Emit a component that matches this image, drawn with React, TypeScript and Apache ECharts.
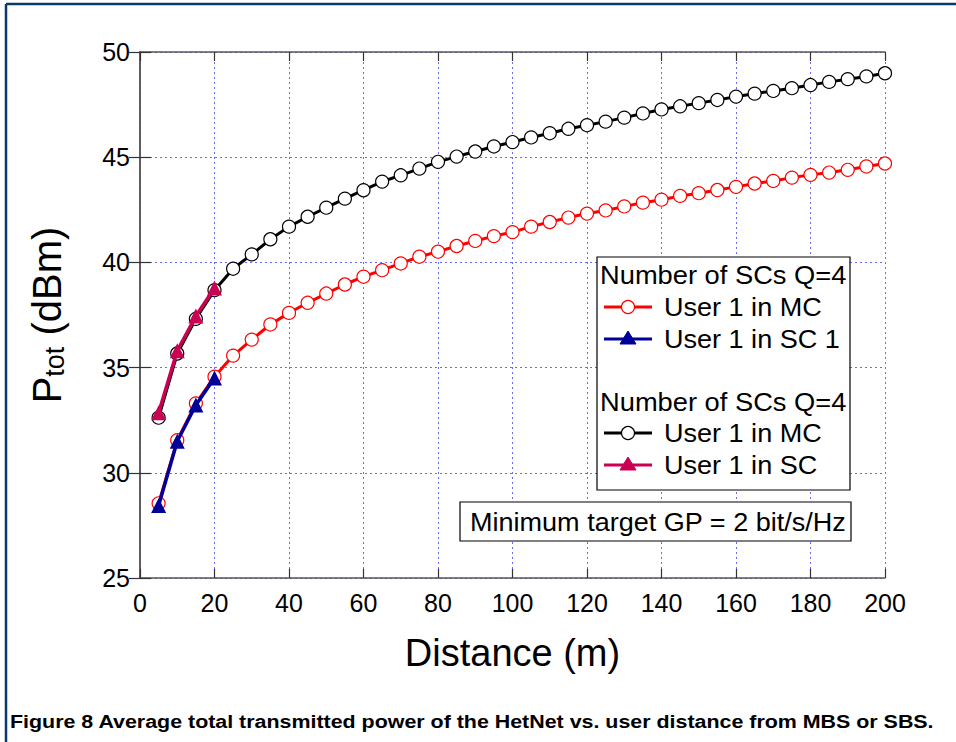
import React, { useEffect, useRef } from "react";
import * as echarts from "echarts";

const distances = [5, 10, 15, 20, 25, 30, 35, 40, 45, 50, 55, 60, 65, 70, 75, 80, 85, 90, 95, 100, 105, 110, 115, 120, 125, 130, 135, 140, 145, 150, 155, 160, 165, 170, 175, 180, 185, 190, 195, 200];
const mcQ4Black = [32.62, 35.67, 37.32, 38.68, 39.7, 40.38, 41.1, 41.7, 42.17, 42.6, 43.03, 43.43, 43.84, 44.14, 44.46, 44.78, 45.03, 45.27, 45.51, 45.72, 45.94, 46.14, 46.35, 46.52, 46.69, 46.88, 47.08, 47.27, 47.42, 47.57, 47.72, 47.88, 48.02, 48.15, 48.28, 48.43, 48.58, 48.71, 48.84, 48.99];
const mcQ4Red = [28.55, 31.55, 33.3, 34.57, 35.57, 36.33, 37.05, 37.6, 38.08, 38.52, 38.95, 39.32, 39.63, 39.95, 40.27, 40.51, 40.78, 41.02, 41.25, 41.44, 41.7, 41.92, 42.13, 42.32, 42.47, 42.66, 42.84, 42.98, 43.16, 43.29, 43.44, 43.59, 43.75, 43.87, 44.03, 44.16, 44.27, 44.4, 44.56, 44.7];
const scDistances = [5, 10, 15, 20];
const sc1Blue = [28.45, 31.5, 33.22, 34.5];
const scMagenta = [32.85, 35.8, 37.45, 38.78];

const legendTitles = ["Number of SCs Q=4", "Number of SCs Q=4"];
const legendNames = [["User 1 in MC", "User 1 in SC 1"], ["User 1 in MC", "User 1 in SC"]];
const noteText = "Minimum target GP = 2 bit/s/Hz";
const xName = "Distance (m)";
const caption = "Figure 8 Average total transmitted power of the HetNet vs. user distance from MBS or SBS.";

const RED = "#ff0000";
const BLUE = "#000099";
const BLACK = "#000000";
const MAGENTA = "#cc0052";
const FONT = "'Liberation Sans', Arial, sans-serif";

const pairs = (xs: number[], ys: number[]) => xs.map((x, i) => [x, ys[i]]);

function legendRow(y: number, color: string, symbol: string, text: string) {
  const els: any[] = [
    { type: "line", shape: { x1: 604, y1: y, x2: 652, y2: y }, style: { stroke: color, lineWidth: 3 }, z: 101 },
  ];
  if (symbol === "circle") {
    els.push({ type: "circle", shape: { cx: 628, cy: y, r: 6.5 }, style: { fill: "#fff", stroke: color, lineWidth: 1.2 }, z: 102 });
  } else {
    els.push({ type: "polygon", shape: { points: [[628, y - 8], [620, y + 5], [636, y + 5]] }, style: { fill: color, stroke: color }, z: 102 });
  }
  els.push({ type: "text", x: 664, y, scaleX: 1.04, style: { text, font: `26px ${FONT}`, fill: "#000", verticalAlign: "middle", align: "left" }, z: 102 });
  return els;
}

export default function App() {
  const ref = useRef<HTMLDivElement>(null);
  useEffect(() => {
    if (!ref.current) return;
    const chart = echarts.init(ref.current, null, { renderer: "svg" });
    const axisLine = { show: true, lineStyle: { color: "#555", width: 1.5 } };
    const tick = { show: true, inside: true, length: 9, lineStyle: { color: "#333", width: 1.2 } };
    const split = { show: true, lineStyle: { color: "#6a6aff", width: 1, type: [2, 3] } };
    const label = { color: "#000", fontSize: 25, fontFamily: FONT };
    const option: any = {
      animation: false,
      backgroundColor: "#fff",
      grid: { left: 140, right: 71, top: 52, bottom: 164 },
      xAxis: [
        {
          type: "value", min: 0, max: 200, interval: 20, position: "bottom",
          axisLine, axisTick: tick, splitLine: split,
          axisLabel: { ...label, margin: 12 },
          name: xName, nameLocation: "middle", nameGap: 56,
          nameTextStyle: { fontSize: 38, fontFamily: FONT, color: "#000" },
        },
        {
          type: "value", min: 0, max: 200, interval: 20, position: "top",
          axisLine, axisTick: tick, splitLine: { show: false }, axisLabel: { show: false },
        },
      ],
      yAxis: [
        {
          type: "value", min: 25, max: 50, interval: 5, position: "left",
          axisLine, axisTick: { ...tick, length: 11 }, splitLine: split,
          axisLabel: { ...label, margin: 10 },
          name: "{a|P}{b|tot}{a| (dBm)}", nameLocation: "middle", nameRotate: 90, nameGap: 72,
          nameTextStyle: {
            rich: {
              a: { fontSize: 40, fontFamily: FONT, color: "#000" },
              b: { fontSize: 27, fontFamily: FONT, color: "#000", padding: [16, 0, 0, 0] },
            },
          },
        },
        {
          type: "value", min: 25, max: 50, interval: 5, position: "right",
          axisLine, axisTick: { ...tick, length: 11 }, splitLine: { show: false }, axisLabel: { show: false },
        },
      ],
      series: [
        {
          name: "User 1 in MC (SC1)", type: "line", data: pairs(distances, mcQ4Red),
          symbol: "circle", symbolSize: 13, lineStyle: { color: RED, width: 3 },
          itemStyle: { color: "#fff", borderColor: RED, borderWidth: 1.2 }, z: 2,
        },
        {
          name: "User 1 in MC", type: "line", data: pairs(distances, mcQ4Black),
          symbol: "circle", symbolSize: 13, lineStyle: { color: BLACK, width: 3 },
          itemStyle: { color: "#fff", borderColor: BLACK, borderWidth: 1.2 }, z: 2,
        },
        {
          name: "User 1 in SC 1", type: "line", data: pairs(scDistances, sc1Blue),
          symbol: "triangle", symbolSize: 15, lineStyle: { color: BLUE, width: 3.5 },
          itemStyle: { color: BLUE }, z: 3,
        },
        {
          name: "User 1 in SC", type: "line", data: pairs(scDistances, scMagenta),
          symbol: "triangle", symbolSize: 15, lineStyle: { color: MAGENTA, width: 3.5 },
          itemStyle: { color: MAGENTA }, z: 3,
        },
      ],
      graphic: [
        { type: "line", shape: { x1: 6, y1: 4, x2: 956, y2: 4 }, style: { stroke: "#0b3a6a", lineWidth: 2.5 } },
        { type: "line", shape: { x1: 6, y1: 4, x2: 6, y2: 742 }, style: { stroke: "#0b3a6a", lineWidth: 2.5 } },
        { type: "rect", shape: { x: 597, y: 257, width: 253, height: 233 }, style: { fill: "#fff", stroke: "#000", lineWidth: 1.2 }, z: 100 },
        { type: "text", x: 600, y: 275, scaleX: 1.05, style: { text: legendTitles[0], font: `26px ${FONT}`, fill: "#000", verticalAlign: "middle" }, z: 101 },
        ...legendRow(307, RED, "circle", legendNames[0][0]),
        ...legendRow(339, BLUE, "triangle", legendNames[0][1]),
        { type: "text", x: 600, y: 402, scaleX: 1.05, style: { text: legendTitles[1], font: `26px ${FONT}`, fill: "#000", verticalAlign: "middle" }, z: 101 },
        ...legendRow(433, BLACK, "circle", legendNames[1][0]),
        ...legendRow(465, MAGENTA, "triangle", legendNames[1][1]),
        { type: "rect", shape: { x: 460, y: 502, width: 391, height: 39 }, style: { fill: "#fff", stroke: "#000", lineWidth: 1.2 }, z: 100 },
        { type: "text", x: 470, y: 522, scaleX: 1.04, style: { text: noteText, font: `26px ${FONT}`, fill: "#000", verticalAlign: "middle", align: "left" }, z: 101 },
        { type: "text", x: 10, y: 722, scaleX: 1.19, style: { text: caption, font: `bold 18px ${FONT}`, fill: "#000", verticalAlign: "middle" }, z: 101 },
      ],
    };
    chart.setOption(option);
    return () => chart.dispose();
  }, []);
  return <div ref={ref} style={{ position: "fixed", left: 0, top: 0, width: 956, height: 742, background: "#fff" }} />;
}
